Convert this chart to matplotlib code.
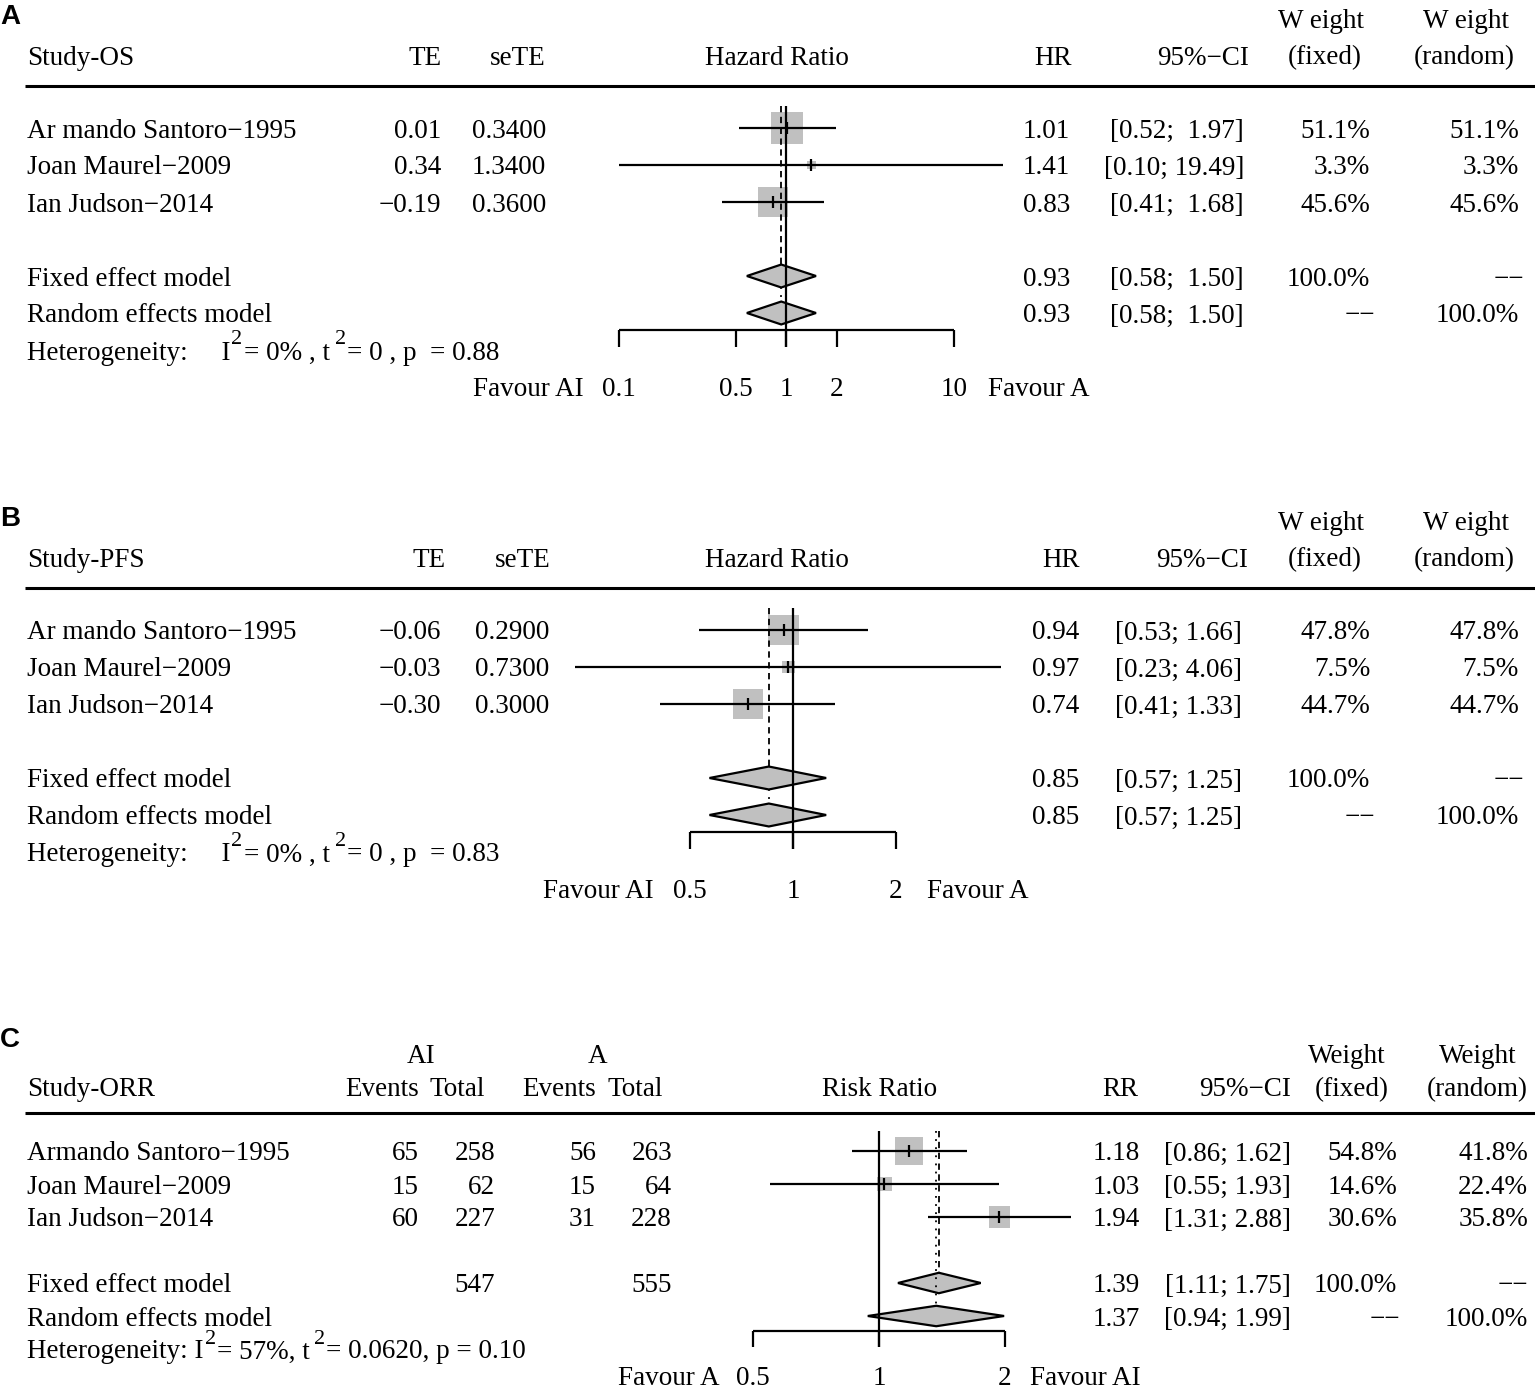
import numpy as np
import matplotlib
matplotlib.use("Agg")
import matplotlib.pyplot as plt
from matplotlib.patches import Polygon
from matplotlib.transforms import blended_transform_factory, offset_copy

plt.rcParams['font.family'] = 'Liberation Serif'

W, H = 1535, 1390
FS = 19.5
GREY = '#c0c0c0'

# ---- data ----
studies_ab = ["Ar mando Santoro\u22121995", "Joan Maurel\u22122009", "Ian Judson\u22122014"]
studies_c = ["Armando Santoro\u22121995", "Joan Maurel\u22122009", "Ian Judson\u22122014"]

# A: OS
os_te = [0.01, 0.34, -0.19]
os_sete = [0.34, 1.34, 0.36]
os_hr = [1.01, 1.41, 0.83]
os_lo = [0.52, 0.10, 0.41]
os_hi = [1.97, 19.49, 1.68]
os_wf = [51.1, 3.3, 45.6]
os_wr = [51.1, 3.3, 45.6]
os_fixed = [0.93, 0.58, 1.50]
os_random = [0.93, 0.58, 1.50]
os_het = [0, 0, 0.88]          # I2 (%), tau2, p
os_ticks = [0.1, 0.5, 1, 2, 10]

# B: PFS
pfs_te = [-0.06, -0.03, -0.30]
pfs_sete = [0.29, 0.73, 0.30]
pfs_hr = [0.94, 0.97, 0.74]
pfs_lo = [0.53, 0.23, 0.41]
pfs_hi = [1.66, 4.06, 1.33]
pfs_wf = [47.8, 7.5, 44.7]
pfs_wr = [47.8, 7.5, 44.7]
pfs_fixed = [0.85, 0.57, 1.25]
pfs_random = [0.85, 0.57, 1.25]
pfs_het = [0, 0, 0.83]
pfs_ticks = [0.5, 1, 2]

# C: ORR
orr_ev_ai = [65, 15, 60]
orr_n_ai = [258, 62, 227]
orr_ev_a = [56, 15, 31]
orr_n_a = [263, 64, 228]
orr_rr = [1.18, 1.03, 1.94]
orr_lo = [0.86, 0.55, 1.31]
orr_hi = [1.62, 1.93, 2.88]
orr_wf = [54.8, 14.6, 30.6]
orr_wr = [41.8, 22.4, 35.8]
orr_fixed = [1.39, 1.11, 1.75]
orr_random = [1.37, 0.94, 1.99]
orr_het = [57, 0.0620, 0.10]
orr_ticks = [0.5, 1, 2]


def num(v, d):
    return f"{v:.{d}f}".replace("-", "\u2212")


def cis(lo, hi):
    w = max(len(f"{h:.2f}") for h in hi)
    return [f"[{l:.2f}; {h:>{w}.2f}]" for l, h in zip(lo, hi)]


fig = plt.figure(figsize=(W / 100, H / 100), dpi=100)
renderer = fig.canvas.get_renderer()
bg = fig.add_axes([0, 0, 1, 1])
bg.set_xlim(0, W)
bg.set_ylim(H, 0)
bg.axis('off')


def panel_axes(one_px, decade_px, y0, dy):
    ax = fig.add_axes([0, 0, 1, 1])
    ax.set_xscale('log')
    ax.set_xlim(10 ** (-one_px / decade_px), 10 ** ((W - one_px) / decade_px))
    ax.set_ylim((H - y0) / dy, -y0 / dy)
    ax.axis('off')
    ax.patch.set_alpha(0)
    tr = blended_transform_factory(bg.transData, ax.transData)
    return ax, tr


def put(ax, tr, x, row, s, ha='left', **kw):
    return ax.text(x, row, s, transform=tr, ha=ha, va='center_baseline', fontsize=FS, **kw)


def put_sup(ax, tr, x, row, pieces):
    # pieces: (text, is_superscript, gap before in px), laid out left to right
    sup_tr = offset_copy(tr, fig=fig, x=0, y=9, units='points')
    for s, sup, gap in pieces:
        t = ax.text(x + gap, row, s, transform=sup_tr if sup else tr, ha='left',
                    va='center_baseline', fontsize=FS * 0.82 if sup else FS)
        x = t.get_window_extent(renderer).x1


def forest(ax, est, lo, hi, wf, k, fixed, random, ticks, lab_row=7, top=-0.6):
    rows = np.arange(len(est))
    side = k * np.sqrt(np.array(wf)) * 0.72
    ax.scatter(est, rows, s=side ** 2, marker='s', color=GREY, linewidths=0, zorder=2)
    ax.vlines(1, top, 5.93, color='k', lw=1.6, zorder=3)
    ax.vlines(fixed[0], top, 4 - 0.3, color='k', lw=1.3, linestyles=(0, (3.5, 2.5)), zorder=3)
    # random-effects line: where it sits on the fixed one, only its lower part shows
    r_top = 4 + 0.3 if random[0] == fixed[0] else top
    ax.vlines(random[0], r_top, 5 - 0.3, color='k', lw=1.3, linestyles=(0, (1, 3.5)), zorder=3)
    ax.hlines(rows, lo, hi, color='k', lw=1.6, zorder=4)
    ax.vlines(est, rows - 0.17, rows + 0.17, color='k', lw=1.6, zorder=4)
    for row, (m, l, h) in zip([4, 5], [fixed, random]):
        ax.add_patch(Polygon([(l, row), (m, row - 0.31), (h, row), (m, row + 0.31)],
                             closed=True, fc=GREY, ec='k', lw=1.6, zorder=2))
    ax.plot([ticks[0], ticks[-1]], [5.45, 5.45], color='k', lw=1.6, solid_capstyle='butt')
    ax.vlines(ticks, 5.45, 5.93, color='k', lw=1.6)
    for t in ticks:
        ax.text(t, lab_row, f"{t:g}", ha='center', va='center_baseline', fontsize=FS)


def header_line(ax, tr):
    ax.plot([25, W], [-1.14, -1.14], color='k', lw=2.2, transform=tr, solid_capstyle='butt')


def het_pieces(vals, wide):
    i2, t2, p = vals
    t2s = f"{t2:g}" if t2 == 0 else f"{t2:.4f}"
    if wide:
        return [("Heterogeneity:     I", False, 0), ("2", True, 1),
                (f"= {i2:g}% , t", False, 1), ("2", True, 5),
                (f"= {t2s} , p  = {p:.2f}", False, 1)]
    return [("Heterogeneity: I", False, 0), ("2", True, 1), (f"= {i2:g}%, t", False, 1),
            ("2", True, 5), (f"= {t2s}, p = {p:.2f}", False, 1)]


def hr_panel(label, y0, title, te, sete, est, lo, hi, wf, wr, fixed, random, het, ticks,
             one_px, decade_px, cols, fav):
    ax, tr = panel_axes(one_px, decade_px, y0, 37)
    bg.text(0, y0 - 111, label, fontsize=20, fontweight='bold', family='Liberation Sans',
            ha='left', va='center')
    hdr = -1.97
    top = -2.95
    put(ax, tr, 27, hdr, title)
    put(ax, tr, cols['te'][0], hdr, "TE", 'right')
    put(ax, tr, cols['se'][0], hdr, "seTE", 'right')
    put(ax, tr, 777, hdr, "Hazard Ratio", 'center')
    put(ax, tr, cols['hr'][0], hdr, "HR", 'right')
    put(ax, tr, cols['ci'][0], hdr, "95%\u2212CI", 'right')
    put(ax, tr, 1321, top, "W eight", 'center')
    put(ax, tr, 1325, hdr, "(fixed)", 'center')
    put(ax, tr, 1466, top, "W eight", 'center')
    put(ax, tr, 1464, hdr, "(random)", 'center')
    header_line(ax, tr)
    ci_txt = cis(lo + [fixed[1], random[1]], hi + [fixed[2], random[2]])
    for i, name in enumerate(studies_ab):
        put(ax, tr, 27, i, name)
        put(ax, tr, cols['te'][1], i, num(te[i], 2), 'right')
        put(ax, tr, cols['se'][1], i, num(sete[i], 4), 'right')
        put(ax, tr, cols['hr'][1], i, num(est[i], 2), 'right')
        put(ax, tr, cols['ci'][1], i, ci_txt[i], 'right')
        put(ax, tr, 1370, i, f"{wf[i]:.1f}%", 'right')
        put(ax, tr, 1519, i, f"{wr[i]:.1f}%", 'right')
    for j, (row, name, m) in enumerate([(4, "Fixed effect model", fixed),
                                         (5, "Random effects model", random)]):
        put(ax, tr, 27, row, name)
        put(ax, tr, cols['hr'][1], row, num(m[0], 2), 'right')
        put(ax, tr, cols['ci'][1], row, ci_txt[3 + j], 'right')
    put(ax, tr, 1370, 4, "100.0%", 'right')
    put(ax, tr, 1524, 4, "\u2212\u2212", 'right')
    put(ax, tr, 1375, 5, "\u2212\u2212", 'right')
    put(ax, tr, 1519, 5, "100.0%", 'right')
    put_sup(ax, tr, 27, 6, het_pieces(het, True))
    put(ax, tr, fav[0], 7, "Favour AI", 'right')
    put(ax, tr, fav[1], 7, "Favour A", 'left')
    forest(ax, est, lo, hi, wf, 4.48, fixed, random, ticks)


hr_panel("A", 128, "Study-OS", os_te, os_sete, os_hr, os_lo, os_hi, os_wf, os_wr,
         os_fixed, os_random, os_het, os_ticks, 786.5, 167.5,
         {'te': (442, 441), 'se': (546, 546), 'hr': (1072, 1070), 'ci': (1249, 1244)},
         (584, 988))
hr_panel("B", 630, "Study-PFS", pfs_te, pfs_sete, pfs_hr, pfs_lo, pfs_hi, pfs_wf, pfs_wr,
         pfs_fixed, pfs_random, pfs_het, pfs_ticks, 793, 342.2,
         {'te': (446, 441), 'se': (551, 549), 'hr': (1080, 1079), 'ci': (1248, 1242)},
         (654, 927))

# ---- panel C ----
y0c = 1151
ax, tr = panel_axes(879, 418.6, y0c, 33)
bg.text(0, 1040, "C", fontsize=20, fontweight='bold', family='Liberation Sans',
        ha='left', va='center')
hdr, top = -1.95, -2.94
put(ax, tr, 27, hdr, "Study-ORR")
put(ax, tr, 421, top, "AI", 'center')
put(ax, tr, 598, top, "A", 'center')
put(ax, tr, 419, hdr, "Events", 'right')
put(ax, tr, 485, hdr, "Total", 'right')
put(ax, tr, 596, hdr, "Events", 'right')
put(ax, tr, 663, hdr, "Total", 'right')
put(ax, tr, 880, hdr, "Risk Ratio", 'center')
put(ax, tr, 1138, hdr, "RR", 'right')
put(ax, tr, 1291, hdr, "95%\u2212CI", 'right')
put(ax, tr, 1347, top, "Weight", 'center')
put(ax, tr, 1352, hdr, "(fixed)", 'center')
put(ax, tr, 1478, top, "Weight", 'center')
put(ax, tr, 1477, hdr, "(random)", 'center')
header_line(ax, tr)
ci_c = cis(orr_lo + [orr_fixed[1], orr_random[1]], orr_hi + [orr_fixed[2], orr_random[2]])
for i, name in enumerate(studies_c):
    put(ax, tr, 27, i, name)
    put(ax, tr, 419, i, str(orr_ev_ai[i]), 'right')
    put(ax, tr, 495, i, str(orr_n_ai[i]), 'right')
    put(ax, tr, 596, i, str(orr_ev_a[i]), 'right')
    put(ax, tr, 672, i, str(orr_n_a[i]), 'right')
    put(ax, tr, 1140, i, num(orr_rr[i], 2), 'right')
    put(ax, tr, 1291, i, ci_c[i], 'right')
    put(ax, tr, 1397, i, f"{orr_wf[i]:.1f}%", 'right')
    put(ax, tr, 1528, i, f"{orr_wr[i]:.1f}%", 'right')
put(ax, tr, 27, 4, "Fixed effect model")
put(ax, tr, 495, 4, str(sum(orr_n_ai)), 'right')
put(ax, tr, 672, 4, str(sum(orr_n_a)), 'right')
put(ax, tr, 1140, 4, num(orr_fixed[0], 2), 'right')
put(ax, tr, 1291, 4, ci_c[3], 'right')
put(ax, tr, 1397, 4, "100.0%", 'right')
put(ax, tr, 1528, 4, "\u2212\u2212", 'right')
put(ax, tr, 27, 5, "Random effects model")
put(ax, tr, 1140, 5, num(orr_random[0], 2), 'right')
put(ax, tr, 1291, 5, ci_c[4], 'right')
put(ax, tr, 1400, 5, "\u2212\u2212", 'right')
put(ax, tr, 1528, 5, "100.0%", 'right')
put_sup(ax, tr, 27, 6, het_pieces(orr_het, False))
put(ax, tr, 720, 6.8, "Favour A", 'right')
put(ax, tr, 1030, 6.8, "Favour AI", 'left')
forest(ax, orr_rr, orr_lo, orr_hi, orr_wf, 3.8, orr_fixed, orr_random, orr_ticks, lab_row=6.8)

fig.savefig("out.png", dpi=100)
